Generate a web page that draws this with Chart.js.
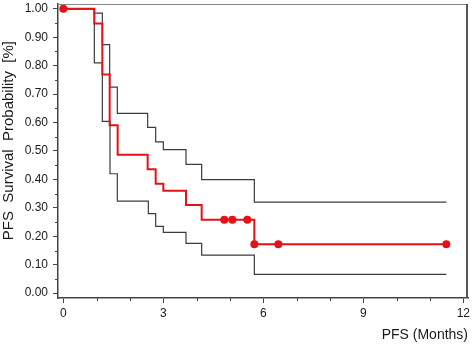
<!DOCTYPE html>
<html>
<head>
<meta charset="utf-8">
<script src="https://cdn.jsdelivr.net/npm/chart.js@4.4.0/dist/chart.umd.min.js"></script>
<style>
  html, body { margin: 0; padding: 0; background: #fff; }
  #wrap { width: 472px; height: 346px; }
</style>
</head>
<body>
<div id="wrap"><canvas id="km"></canvas></div>
<script>
// Kaplan-Meier estimate (months, survival)
const kmTimes  = [0, 0.93, 1.17, 1.39, 1.63, 2.53, 2.77, 3.0, 3.68, 4.15, 4.83, 5.07, 5.52, 5.73, 6.45, 11.49];
const kmValues = [1.00, 0.948, 0.769, 0.591, 0.487, 0.436, 0.385, 0.36, 0.31, 0.258, 0.258, 0.258, 0.258, 0.172, 0.172, 0.172];
// which points are marked with a dot (start + censored)
const kmMarked = [1, 0, 0, 0, 0, 0, 0, 0, 0, 0, 1, 1, 1, 1, 1, 1];

// confidence band
const upperTimes  = [0, 0.93, 1.17, 1.39, 1.62, 2.53, 2.77, 3.0, 3.68, 4.15, 5.73, 11.49];
const upperValues = [1.0, 0.985, 0.874, 0.725, 0.632, 0.583, 0.532, 0.505, 0.453, 0.399, 0.32, 0.32];
const lowerTimes  = [0, 0.93, 1.17, 1.40, 1.62, 2.55, 2.77, 3.0, 3.68, 4.15, 5.73, 11.49];
const lowerValues = [1.0, 0.81, 0.604, 0.42, 0.324, 0.28, 0.235, 0.214, 0.175, 0.134, 0.066, 0.066];

// axis ticks
const xMajor = [0, 3, 6, 9, 12];
const xMinor = [1, 2, 4, 5, 7, 8, 10, 11];
const yMajor = [0, 0.1, 0.2, 0.3, 0.4, 0.5, 0.6, 0.7, 0.8, 0.9, 1.0];
const yMinor = [0.05, 0.15, 0.25, 0.35, 0.45, 0.55, 0.65, 0.75, 0.85, 0.95];

const toPts = (xs, ys) => xs.map((x, i) => ({ x: x, y: ys[i] }));

const axisColor = '#444';
const textColor = '#1a1a1a';
const fontFam = 'Liberation Sans, Arial, sans-serif';

// frame on top/right + minor ticks
const framePlugin = {
    id: 'frame',
    afterDraw(chart) {
        const ctx = chart.ctx;
        const a = chart.chartArea;
        const xs = chart.scales.x, ys = chart.scales.y;
        ctx.save();
        ctx.strokeStyle = '#888';
        ctx.lineWidth = 1;
        ctx.beginPath();
        ctx.moveTo(a.left, a.top + 0.5);
        ctx.lineTo(a.right, a.top + 0.5);
        ctx.stroke();
        ctx.strokeStyle = '#555';
        ctx.lineWidth = 2;
        ctx.beginPath();
        ctx.moveTo(a.right - 1, a.top);
        ctx.lineTo(a.right - 1, a.bottom);
        ctx.stroke();

        ctx.strokeStyle = axisColor;
        ctx.lineWidth = 1;
        ctx.beginPath();
        xMinor.forEach(v => {
            const px = Math.round(xs.getPixelForValue(v)) + 0.5;
            ctx.moveTo(px, a.bottom);
            ctx.lineTo(px, a.bottom + 3);
        });
        yMinor.forEach(v => {
            const py = Math.round(ys.getPixelForValue(v)) + 0.5;
            ctx.moveTo(a.left, py);
            ctx.lineTo(a.left - 3, py);
        });
        ctx.stroke();
        ctx.restore();
    }
};

new Chart(document.getElementById('km'), {
    type: 'line',
    data: {
        datasets: [
            {
                label: 'KM',
                data: toPts(kmTimes, kmValues),
                stepped: true,
                borderColor: 'rgb(228, 18, 22)',
                borderWidth: 2,
                pointRadius: kmMarked.map(m => m ? 4 : 0),
                pointBackgroundColor: 'rgb(228, 18, 22)',
                pointBorderWidth: 0,
                fill: false
            },
            {
                label: 'upper',
                data: toPts(upperTimes, upperValues),
                stepped: true,
                borderColor: '#3c3c3c',
                borderWidth: 1.2,
                pointRadius: 0,
                fill: false
            },
            {
                label: 'lower',
                data: toPts(lowerTimes, lowerValues),
                stepped: true,
                borderColor: '#3c3c3c',
                borderWidth: 1.2,
                pointRadius: 0,
                fill: false
            }
        ]
    },
    options: {
        responsive: true,
        maintainAspectRatio: false,
        animation: false,
        layout: { padding: { top: 2, right: 4, left: 0, bottom: 0 } },
        plugins: {
            legend: { display: false },
            tooltip: { enabled: false }
        },
        scales: {
            x: {
                type: 'linear',
                min: -0.16,
                max: 12.14,
                afterBuildTicks: s => { s.ticks = xMajor.map(v => ({ value: v })); },
                afterFit: s => { s.height = 48; s.paddingLeft = 0; s.paddingRight = 0; },
                ticks: {
                    color: textColor,
                    padding: 3,
                    font: { family: fontFam, size: 12 },
                    maxRotation: 0,
                    callback: v => String(v)
                },
                grid: {
                    drawOnChartArea: false,
                    drawTicks: true,
                    tickLength: 5,
                    tickColor: axisColor
                },
                border: { display: true, color: axisColor, width: 1.5 },
                title: {
                    display: true,
                    text: 'PFS (Months)',
                    align: 'end',
                    color: textColor,
                    padding: { top: 0, bottom: 2 },
                    font: { family: fontFam, size: 14 }
                }
            },
            y: {
                type: 'linear',
                min: -0.017,
                max: 1.017,
                afterBuildTicks: s => { s.ticks = yMajor.map(v => ({ value: v })); },
                afterFit: s => { s.width = 58; s.paddingTop = 0; s.paddingBottom = 0; },
                ticks: {
                    color: textColor,
                    padding: 5,
                    font: { family: fontFam, size: 12 },
                    callback: v => Number(v).toFixed(2)
                },
                grid: {
                    drawOnChartArea: false,
                    drawTicks: true,
                    tickLength: 5,
                    tickColor: axisColor
                },
                border: { display: true, color: axisColor, width: 1.5 },
                title: {
                    display: true,
                    text: '     PFS  Survival  Probability  [%]',
                    color: textColor,
                    padding: { top: 0, bottom: 0 },
                    font: { family: fontFam, size: 15 }
                }
            }
        }
    },
    plugins: [framePlugin]
});
</script>
</body>
</html>
